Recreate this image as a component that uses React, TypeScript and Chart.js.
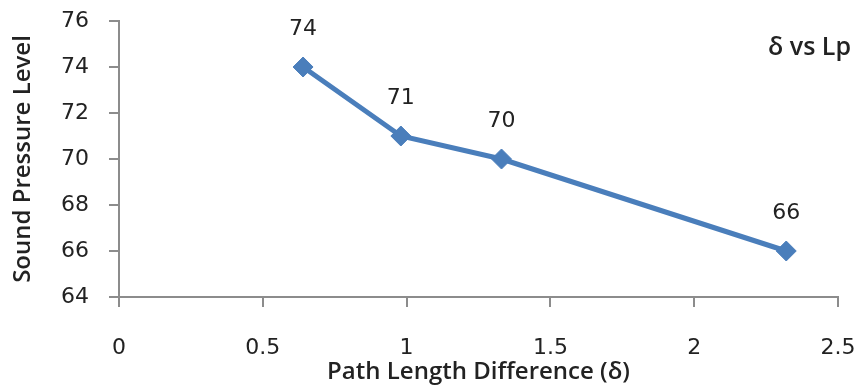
import React, { useEffect, useRef } from "react";
import { Chart, registerables } from "chart.js";

Chart.register(...registerables);

// Path length difference (δ) and measured sound pressure level (Lp)
const deltaValues = [0.64, 0.98, 1.33, 2.32];
const lpValues = [74, 71, 70, 66];
const seriesName = "δ vs Lp";
const xTitle = "Path Length Difference (δ)";
const yTitle = "Sound Pressure Level";

const LINE_BLUE = "#4a7ebb";
const AXIS_GREY = "#8c8c8c";
const TEXT_DARK = "#222222";
const TICK_FONT = "'DejaVu Sans', Verdana, sans-serif";
const TITLE_FONT = "'Open Sans', Lato, sans-serif";

// Writes each point's value above its marker
const pointValueLabels = {
  id: "pointValueLabels",
  afterDatasetsDraw(chart: any) {
    const { ctx } = chart;
    const meta = chart.getDatasetMeta(0);
    const values = chart.data.datasets[0].data as { x: number; y: number }[];
    ctx.save();
    ctx.font = `22px ${TICK_FONT}`;
    ctx.fillStyle = TEXT_DARK;
    ctx.textAlign = "center";
    ctx.textBaseline = "middle";
    meta.data.forEach((el: any, i: number) => {
      ctx.fillText(String(values[i].y), el.x, el.y - 38);
    });
    ctx.restore();
  },
};

// Series name in the upper right corner of the plot
const seriesTag = {
  id: "seriesTag",
  afterDraw(chart: any) {
    const { ctx, chartArea } = chart;
    ctx.save();
    ctx.font = `600 25px ${TITLE_FONT}`;
    ctx.fillStyle = TEXT_DARK;
    ctx.textAlign = "right";
    ctx.textBaseline = "middle";
    ctx.fillText(seriesName, chartArea.right + 13, chartArea.top + 27);
    ctx.restore();
  },
};

export default function App() {
  const canvasRef = useRef<HTMLCanvasElement | null>(null);

  useEffect(() => {
    if (!canvasRef.current) return;
    const chart = new Chart(canvasRef.current, {
      type: "scatter",
      data: {
        datasets: [
          {
            label: seriesName,
            data: deltaValues.map((x, i) => ({ x, y: lpValues[i] })),
            showLine: true,
            borderColor: LINE_BLUE,
            backgroundColor: LINE_BLUE,
            borderWidth: 5,
            pointStyle: "rectRot",
            pointRadius: 10,
            pointHoverRadius: 10,
            pointBackgroundColor: LINE_BLUE,
            pointBorderColor: LINE_BLUE,
            pointBorderWidth: 1,
          },
        ],
      },
      options: {
        animation: false,
        responsive: true,
        maintainAspectRatio: false,
        layout: {
          autoPadding: false,
          padding: { top: 21, right: 20, left: 0, bottom: 0 },
        },
        plugins: {
          legend: { display: false },
          tooltip: { enabled: false },
        },
        scales: {
          x: {
            type: "linear",
            min: 0,
            max: 2.5,
            afterFit(scale: any) {
              scale.height = 90;
              scale.paddingLeft = 0;
              scale.paddingRight = 0;
            },
            ticks: {
              stepSize: 0.5,
              padding: 28,
              color: TEXT_DARK,
              font: { family: TICK_FONT, size: 22 },
              callback: (v: any) => String(v),
            },
            grid: {
              drawOnChartArea: false,
              drawTicks: true,
              tickLength: 10,
              color: AXIS_GREY,
              lineWidth: 2,
            },
            border: { color: AXIS_GREY, width: 2 },
            title: {
              display: true,
              text: xTitle,
              color: TEXT_DARK,
              font: { family: TITLE_FONT, size: 24, weight: "600" },
              padding: { top: 0, bottom: 0 },
            },
          },
          y: {
            type: "linear",
            min: 64,
            max: 76,
            afterFit(scale: any) {
              scale.width = 119;
              scale.paddingTop = 0;
              scale.paddingBottom = 0;
            },
            ticks: {
              stepSize: 2,
              padding: 20,
              color: TEXT_DARK,
              font: { family: TICK_FONT, size: 22 },
            },
            grid: {
              drawOnChartArea: false,
              drawTicks: true,
              tickLength: 10,
              color: AXIS_GREY,
              lineWidth: 2,
            },
            border: { color: AXIS_GREY, width: 2 },
            title: {
              display: true,
              text: yTitle,
              color: TEXT_DARK,
              font: { family: TITLE_FONT, size: 24, weight: "600" },
              padding: { top: 9, bottom: 0 },
            },
          },
        },
      },
      plugins: [pointValueLabels, seriesTag],
    });
    return () => chart.destroy();
  }, []);

  return (
    <div
      style={{
        position: "absolute",
        left: 0,
        top: 0,
        width: 858,
        height: 387,
        background: "#ffffff",
      }}
    >
      <canvas ref={canvasRef} />
    </div>
  );
}
